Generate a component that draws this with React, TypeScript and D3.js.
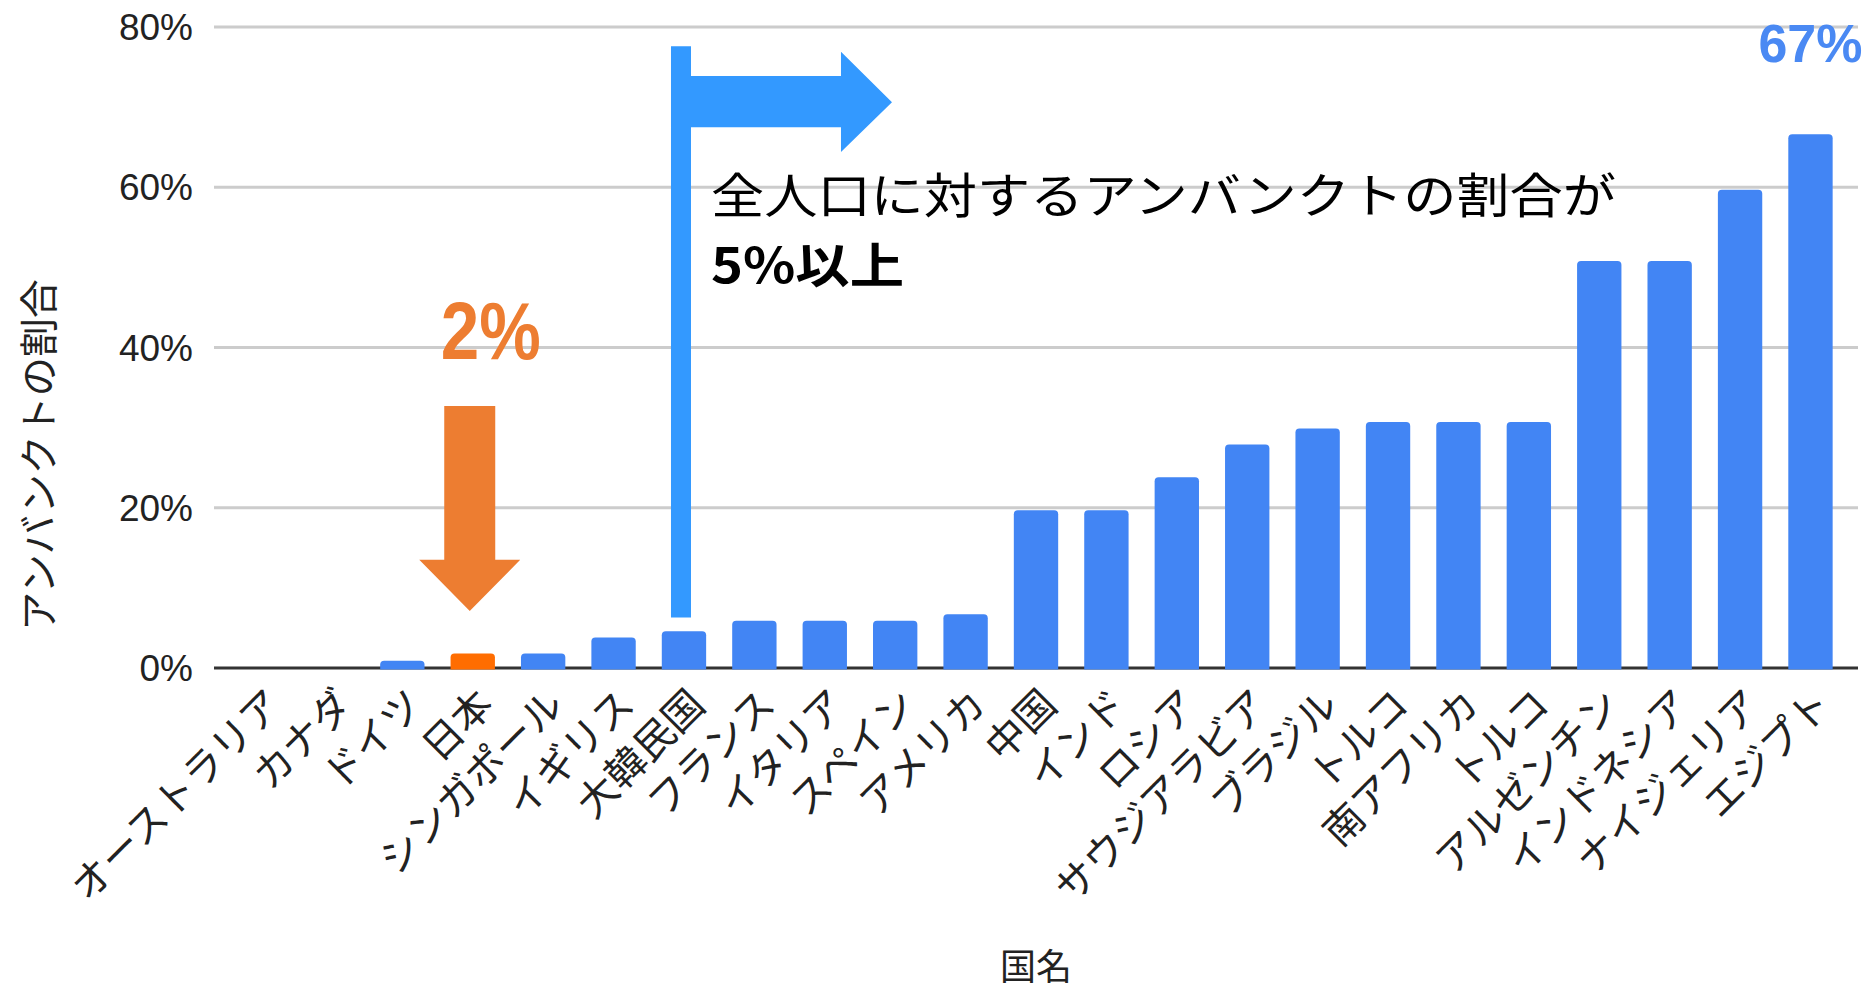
import React from 'react';
import * as d3 from 'd3';

const countries = [
  'オーストラリア', 'カナダ', 'ドイツ', '日本', 'シンガポール', 'イギリス', '大韓民国',
  'フランス', 'イタリア', 'スペイン', 'アメリカ', '中国', 'インド', 'ロシア',
  'サウジアラビア', 'ブラジル', 'トルコ', '南アフリカ', 'トルコ', 'アルゼンチン',
  'インドネシア', 'ナイジェリア', 'エジプト',
];
const values = [
  0, 0, 0.9, 1.8, 1.8, 3.8, 4.6,
  5.9, 5.9, 5.9, 6.7, 19.7, 19.7, 23.8,
  27.9, 29.9, 30.7, 30.7, 30.7, 50.8,
  50.8, 59.7, 66.6,
];
const highlightIndex = 3;
const startIndex = 6;
const lastIndex = 22;
const yTicks = [0, 20, 40, 60, 80];
const yTickLabels = ['0%', '20%', '40%', '60%', '80%'];
const yTitle = 'アンバンクトの割合';
const xTitle = '国名';
const noteLine1 = '全人口に対するアンバンクトの割合が';
const noteLine2 = '5%以上';
const highlightLabel = '2%';
const lastLabel = '67%';

const W = 1867;
const H = 990;
const LEFT = 214;
const RIGHT = 1858;
const TOP = 27;
const BOTTOM = 668;

const BLUE = '#4285F4';
const ORANGE_BAR = '#FF6D01';
const ORANGE = '#ED7D31';
const ARROW_BLUE = '#3399FF';
const LABEL_BLUE = '#4A89F3';
const TEXT = '#222222';
const JP = '"Noto Sans CJK JP", "Noto Sans", sans-serif';
const LAT = '"Liberation Sans", Arial, sans-serif';

function barPath(x0: number, w: number, yt: number, yb: number, rr: number) {
  const h = yb - yt;
  if (h <= 0) return '';
  const r = Math.min(rr, h, w / 2);
  return `M${x0},${yb}V${yt + r}Q${x0},${yt} ${x0 + r},${yt}H${x0 + w - r}Q${x0 + w},${yt} ${x0 + w},${yt + r}V${yb}Z`;
}

export default function App() {
  const idx = d3.range(countries.length);
  const x = d3.scaleBand<number>().domain(idx).range([LEFT, RIGHT]).paddingInner(0.37).paddingOuter(0.36);
  const y = d3.scaleLinear().domain([0, 80]).range([BOTTOM, TOP]);
  const bw = x.bandwidth();
  const cx = (i: number) => (x(i) as number) + bw / 2;

  // orange arrow (pointing down to the highlighted bar)
  const oc = cx(highlightIndex) - 3;
  const oTop = y(32.7), oNeck = y(13.5), oTip = y(7.1);
  const orangeArrow = `M${oc - 25.5},${oTop}H${oc + 25.5}V${oNeck}H${oc + 50.5}L${oc},${oTip}L${oc - 50.5},${oNeck}H${oc - 25.5}Z`;

  // blue bracket arrow starting at the 5% threshold bar
  const bx = (x(startIndex) as number) + 9.2;
  const bTop = y(77.6), bBot = y(6.3);
  const sTop = y(73.9), sBot = y(67.5), hTop = y(76.9), hBot = y(64.4), hTip = y(70.6);
  const neck = bx + 170, tip = bx + 221;
  const blueArrow = `M${bx},${bTop}H${bx + 20}V${sTop}H${neck}V${hTop}L${tip},${hTip}L${neck},${hBot}V${sBot}H${bx + 20}V${bBot}H${bx}Z`;

  const noteX = bx + 40;

  return (
    <svg width={W} height={H} style={{ position: 'absolute', left: 0, top: 0, background: '#fff' }}>
      <rect x={0} y={0} width={W} height={H} fill="#fff" />
      {/* gridlines */}
      {yTicks.filter((t) => t > 0).map((t) => (
        <line key={t} x1={LEFT} x2={RIGHT} y1={y(t)} y2={y(t)} stroke="#cccccc" strokeWidth={3} />
      ))}
      <line x1={LEFT} x2={RIGHT} y1={y(0)} y2={y(0)} stroke="#333333" strokeWidth={3} />
      {/* y tick labels */}
      {yTicks.map((t, i) => (
        <text key={t} x={193} y={y(t) + 13} textAnchor="end" fontFamily={LAT} fontSize={37} fill={TEXT}>
          {yTickLabels[i]}
        </text>
      ))}
      {/* bars */}
      {idx.filter((i) => values[i] > 0).map((i) => (
        <path
          key={i}
          d={barPath(x(i) as number, bw, y(values[i]), y(0) + 1.5, 4)}
          fill={i === highlightIndex ? ORANGE_BAR : BLUE}
        />
      ))}
      {/* x labels */}
      {idx.map((i) => (
        <text
          key={i}
          transform={`translate(${cx(i) + 23},${707}) rotate(-45)`}
          textAnchor="end"
          fontFamily={JP}
          fontSize={40}
          fill={TEXT}
        >
          {countries[i]}
        </text>
      ))}
      {/* axis titles */}
      <text transform={`translate(53,455) rotate(-90)`} textAnchor="middle" fontFamily={JP} fontSize={39} fill={TEXT}>
        {yTitle}
      </text>
      <text x={(LEFT + RIGHT) / 2} y={980} textAnchor="middle" fontFamily={JP} fontSize={36} fill={TEXT}>
        {xTitle}
      </text>
      {/* annotations */}
      <path d={orangeArrow} fill={ORANGE} />
      <text x={cx(highlightIndex) + 18} y={y(38.6)} textAnchor="middle" fontFamily={LAT} fontWeight="bold" fontSize={82} fill={ORANGE} textLength={100} lengthAdjust="spacingAndGlyphs">
        {highlightLabel}
      </text>
      <path d={blueArrow} fill={ARROW_BLUE} />
      <text x={noteX} y={213} fontFamily={JP} fontSize={48} fill="#000" textLength={905} lengthAdjust="spacingAndGlyphs">
        {noteLine1}
      </text>
      <text x={noteX} y={283} fontFamily={JP} fontWeight="bold" fontSize={48} fill="#000" textLength={193} lengthAdjust="spacingAndGlyphs">
        {noteLine2}
      </text>
      <text x={cx(lastIndex)} y={y(75.6)} textAnchor="middle" fontFamily={LAT} fontWeight="bold" fontSize={54} fill={LABEL_BLUE} textLength={104} lengthAdjust="spacingAndGlyphs">
        {lastLabel}
      </text>
    </svg>
  );
}
